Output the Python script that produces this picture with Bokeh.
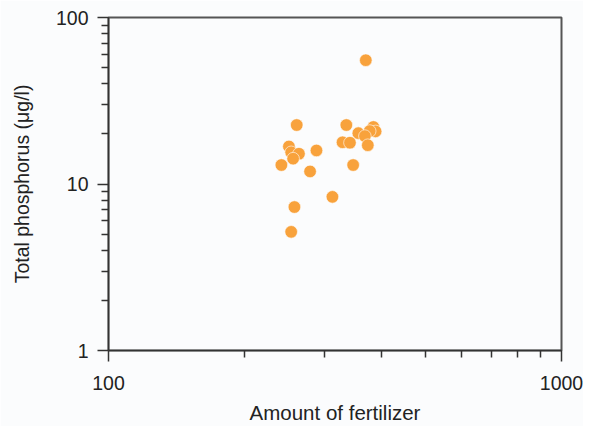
from bokeh.plotting import figure
from bokeh.models import FixedTicker, BasicTickFormatter
from bokeh.embed import file_html
from bokeh.resources import INLINE

fertilizer = [369.8, 260.3, 335.0, 384.3, 388.7, 377.3, 356.1, 368.1, 250.2, 328.6, 341.2,
              373.6, 253.1, 263.3, 255.6, 287.8, 240.8, 278.6, 346.8, 312.1, 257.3, 253.1]
phosphorus = [55.4, 22.6, 22.6, 22.0, 20.7, 20.8, 20.2, 19.4, 16.8, 17.8, 17.7,
              17.1, 15.5, 15.2, 14.2, 15.9, 13.0, 11.9, 13.0, 8.37, 7.27, 5.16]

x_major = [100, 1000]
x_minor = [200, 300, 400, 500, 600, 700, 800, 900]
y_major = [1, 10, 100]
y_minor = [2, 3, 4, 5, 6, 7, 8, 9, 20, 30, 40, 50, 60, 70, 80, 90]

bg = "#fbfcfd"
p = figure(width=583, height=426, x_axis_type="log", y_axis_type="log",
           x_range=(100, 1000), y_range=(1, 100),
           output_backend="svg", toolbar_location=None,
           min_border_left=108, min_border_right=22, min_border_top=17, min_border_bottom=72)
p.background_fill_color = bg
p.border_fill_color = bg
p.grid.visible = False
p.outline_line_color = "#555555"
p.outline_line_width = 2

p.xaxis.ticker = FixedTicker(ticks=x_major, minor_ticks=x_minor)
p.yaxis.ticker = FixedTicker(ticks=y_major, minor_ticks=y_minor)
p.xaxis.formatter = BasicTickFormatter()
p.yaxis.formatter = BasicTickFormatter()

for ax in (p.xaxis, p.yaxis):
    ax.axis_line_color = "#333333"
    ax.axis_line_width = 1.5
    ax.major_tick_line_color = "#333333"
    ax.minor_tick_line_color = "#333333"
    ax.major_tick_line_width = 1.5
    ax.minor_tick_line_width = 1.5
    ax.major_tick_in = 0
    ax.minor_tick_in = 0
    ax.major_tick_out = 11
    ax.minor_tick_out = 7
    ax.major_label_text_font = "Liberation Sans"
    ax.major_label_text_font_size = "19.5px"
    ax.major_label_text_color = "#222222"
    ax.axis_label_text_font = "Liberation Sans"
    ax.axis_label_text_font_style = "normal"
    ax.axis_label_text_color = "#222222"

p.xaxis.axis_label = "Amount of fertilizer"
p.yaxis.axis_label = "Total phosphorus (μg/l)"
p.xaxis.axis_label_text_font_size = "20.5px"
p.yaxis.axis_label_text_font_size = "19.5px"
p.xaxis.major_label_standoff = 14
p.yaxis.major_label_standoff = 9
p.xaxis.axis_label_standoff = 8
p.yaxis.axis_label_standoff = 20

p.scatter(fertilizer, phosphorus, size=12.6, fill_color="#f8a23c", fill_alpha=1.0,
          line_color="white", line_alpha=0.6, line_width=1)

open("out.html", "w").write(file_html(p, INLINE))
